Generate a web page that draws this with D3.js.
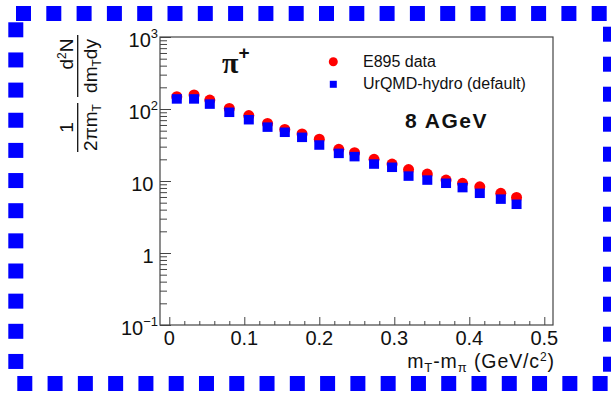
<!DOCTYPE html>
<html>
<head>
<meta charset="utf-8">
<script src="https://cdn.jsdelivr.net/npm/d3@7"></script>
<style>
  html, body { margin: 0; padding: 0; background: #fff; }
  svg { display: block; font-family: "Liberation Sans", Arial, sans-serif; }
</style>
</head>
<body>
<svg id="mainsvg" width="611" height="394"></svg>
<script>
// values
const mt = [0.010, 0.033, 0.054, 0.080, 0.106, 0.131, 0.154, 0.177, 0.200, 0.226,
            0.247, 0.273, 0.297, 0.319, 0.344, 0.369, 0.391, 0.414, 0.442, 0.463];
const e895 = [148, 157, 133, 102, 81, 63, 52, 45, 38, 27.5,
              24.7, 20.0, 17.2, 14.4, 12.5, 10.3, 9.3, 8.3, 6.75, 5.9];
const urqmd = [138, 138, 117, 90, 71, 56, 47.5, 40.4, 31.6, 24.2,
               21.8, 17.2, 15.5, 11.7, 10.3, 9.3, 8.1, 6.75, 5.6, 4.75];
const xTicks = [0, 0.1, 0.2, 0.3, 0.4, 0.5];
const yTicks = [
  {v: 0.1, base: '10', sup: '\u22121'},
  {v: 1, base: '1', sup: ''},
  {v: 10, base: '10', sup: ''},
  {v: 100, base: '10', sup: '2'},
  {v: 1000, base: '10', sup: '3'}
];
const seriesNames = ['E895 data', 'UrQMD-hydro (default)'];

const svg = d3.select('#mainsvg');
const axisColor = '#444';

// dashed blue frame round the picture
const border = svg.append('g').attr('fill', '#0000ff');
d3.range(20).forEach(k => {
  border.append('rect').attr('x', 16 + 30.3 * k).attr('y', 6).attr('width', 15).attr('height', 15);
  border.append('rect').attr('x', 17.3 + 30.28 * k).attr('y', 376).attr('width', 15).attr('height', 15);
});
d3.range(12).forEach(k => {
  border.append('rect').attr('x', 8.3).attr('y', 22.3 + 30.15 * k).attr('width', 15).attr('height', 15);
  border.append('rect').attr('x', 603).attr('y', 26.7 + 30 * k).attr('width', 15).attr('height', 15);
});

const frame = {left: 160, right: 553, top: 37, bottom: 325};

const xScale = d3.scaleLinear()
  .domain([-0.0124, 0.5116])
  .range([frame.left, frame.right]);
const yScale = d3.scaleLog()
  .domain([0.1, 1000])
  .range([frame.bottom, frame.top]);

// frame
svg.append('rect')
  .attr('x', frame.left).attr('y', frame.top)
  .attr('width', frame.right - frame.left).attr('height', frame.bottom - frame.top)
  .attr('fill', 'none').attr('stroke', axisColor).attr('stroke-width', 1.2);

// y axis: inward ticks, log minors
const yMinor = [];
[0.1, 1, 10, 100].forEach(d => d3.range(2, 10).forEach(m => yMinor.push(d * m)));
const yAxisMinor = d3.axisRight(yScale).tickValues(yMinor).tickSize(7).tickFormat('');
const yAxisMajor = d3.axisRight(yScale).tickValues(yTicks.map(t => t.v)).tickSize(11).tickFormat('');
[yAxisMinor, yAxisMajor].forEach(ax => {
  const g = svg.append('g').attr('transform', `translate(${frame.left},0)`).call(ax);
  g.select('.domain').remove();
  g.selectAll('line').attr('stroke', axisColor).attr('stroke-width', 1);
});

yTicks.forEach(t => {
  const txt = svg.append('text')
    .attr('x', t.sup ? 158 : 153.5)
    .attr('y', yScale(t.v) + 10)
    .attr('text-anchor', 'end')
    .attr('font-size', 20)
    .attr('fill', '#111')
    .text(t.base);
  if (t.sup) {
    txt.append('tspan').attr('font-size', 13).attr('dy', -9).text(t.sup);
  }
});

// x axis: inward ticks
const xMinor = d3.range(0, 26).map(i => i * 0.02).filter(v => Math.abs(v * 10 - Math.round(v * 10)) > 1e-6);
const xAxisMinor = d3.axisTop(xScale).tickValues(xMinor).tickSize(4).tickFormat('');
const xAxisMajor = d3.axisTop(xScale).tickValues(xTicks).tickSize(8).tickFormat('');
[xAxisMinor, xAxisMajor].forEach(ax => {
  const g = svg.append('g').attr('transform', `translate(0,${frame.bottom})`).call(ax);
  g.select('.domain').remove();
  g.selectAll('line').attr('stroke', axisColor).attr('stroke-width', 1);
});
svg.append('g').selectAll('text')
  .data(xTicks)
  .join('text')
  .attr('x', d => xScale(d))
  .attr('y', 345)
  .attr('text-anchor', 'middle')
  .attr('font-size', 20)
  .attr('fill', '#111')
  .text(d => d === 0 ? '0' : d3.format('.1f')(d));

// x title
const xt = svg.append('text')
  .attr('x', 555).attr('y', 367.5)
  .attr('text-anchor', 'end')
  .attr('font-size', 19.5)
  .attr('letter-spacing', 0.9)
  .attr('fill', '#111');
xt.append('tspan').text('m');
xt.append('tspan').attr('font-size', 13).attr('dy', 4).text('T');
xt.append('tspan').attr('dy', -4).text('-m');
xt.append('tspan').attr('font-size', 13).attr('dy', 4).text('\u03c0');
xt.append('tspan').attr('dy', -4).text(' (GeV/c');
xt.append('tspan').attr('font-size', 12).attr('dy', -7).text('2');
xt.append('tspan').attr('dy', 7).text(')');

// y title, rotated fractions
const yt = svg.append('g').attr('transform', 'rotate(-90)').attr('fill', '#111');
const frac = (cy, y0, y1, num, den) => {
  const n = yt.append('text').attr('x', -cy).attr('y', 73)
    .attr('text-anchor', 'middle').attr('font-size', 19);
  num(n);
  const d = yt.append('text').attr('x', -(y0 + y1) / 2).attr('y', 97)
    .attr('text-anchor', 'middle').attr('font-size', 19);
  den(d);
  yt.append('line').attr('x1', -y0).attr('x2', -y1).attr('y1', 77.7).attr('y2', 77.7)
    .attr('stroke', '#111').attr('stroke-width', 1.3);
};
frac(127.5, 103, 152,
  t => t.text('1'),
  t => {
    t.append('tspan').text('2\u03c0m');
    t.append('tspan').attr('font-size', 12).attr('dy', 4).text('T');
  });
frac(54, 35, 97,
  t => {
    t.append('tspan').text('d');
    t.append('tspan').attr('font-size', 12).attr('dy', -7).text('2');
    t.append('tspan').attr('dy', 7).text('N');
  },
  t => {
    t.append('tspan').text('dm');
    t.append('tspan').attr('font-size', 12).attr('dy', 4).text('T');
    t.append('tspan').attr('dy', -4).text('dy');
  });

// pi+ label
const pl = svg.append('text')
  .attr('x', 222).attr('y', 73)
  .attr('font-family', '"Liberation Serif", "DejaVu Serif", serif')
  .attr('font-weight', 'bold')
  .attr('font-size', 30)
  .attr('fill', '#111')
  .text('\u03c0');
pl.append('tspan').attr('font-family', '"Liberation Sans", Arial, sans-serif')
  .attr('font-size', 19).attr('dy', -14).text('+');

// energy label
svg.append('text')
  .attr('x', 405).attr('y', 127.5)
  .attr('font-size', 21)
  .attr('font-weight', 'bold')
  .attr('letter-spacing', 1.5)
  .attr('fill', '#111')
  .text('8 AGeV');

// points
const data = mt.map((x, i) => ({x: x, e895: e895[i], urqmd: urqmd[i]}));
svg.append('g').selectAll('circle')
  .data(data)
  .join('circle')
  .attr('cx', d => xScale(d.x))
  .attr('cy', d => yScale(d.e895))
  .attr('r', 5.5)
  .attr('fill', '#ff0000');
svg.append('g').selectAll('rect')
  .data(data)
  .join('rect')
  .attr('x', d => xScale(d.x) - 5)
  .attr('y', d => yScale(d.urqmd) - 4.75)
  .attr('width', 10)
  .attr('height', 9.5)
  .attr('fill', '#0000ff');

// legend
const legend = svg.append('g');
legend.append('circle').attr('cx', 333.3).attr('cy', 61.7).attr('r', 4.5).attr('fill', '#ff0000');
legend.append('rect').attr('x', 329.8).attr('y', 80.8).attr('width', 7).attr('height', 7).attr('fill', '#0000ff');
legend.selectAll('text')
  .data(seriesNames)
  .join('text')
  .attr('x', 363)
  .attr('y', (d, i) => i === 0 ? 67 : 88.5)
  .attr('font-size', 16)
  .attr('fill', '#111')
  .text(d => d);
</script>
</body>
</html>
